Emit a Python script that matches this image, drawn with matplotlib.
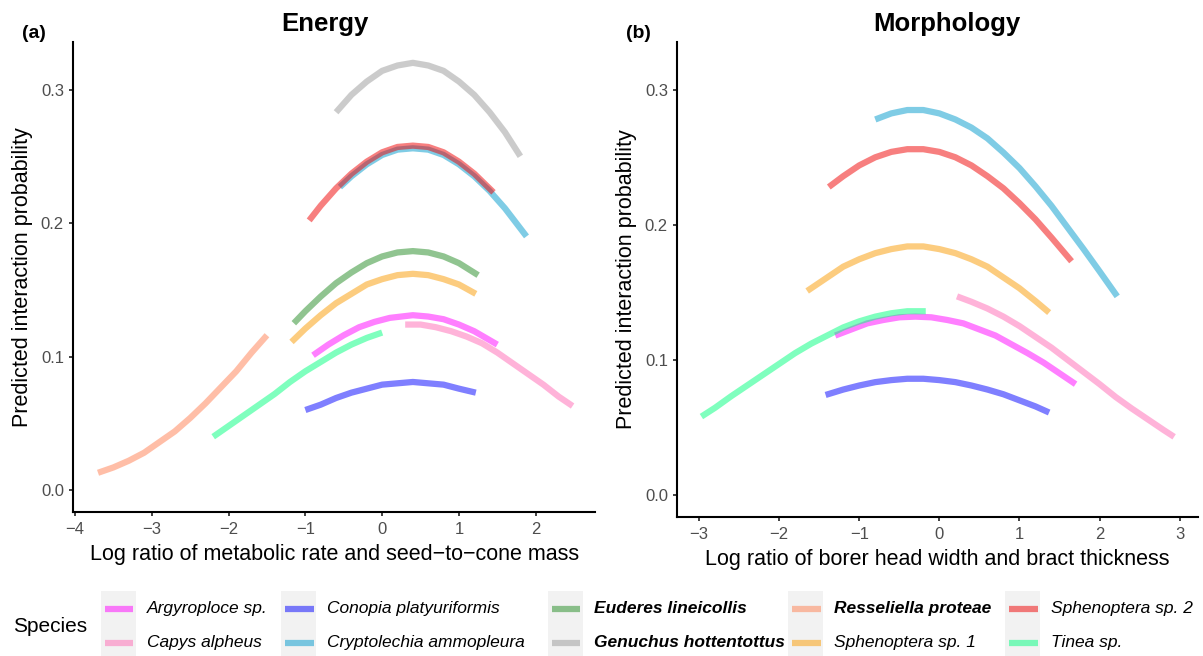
import matplotlib
matplotlib.use("Agg")
import matplotlib.pyplot as plt
from matplotlib.lines import Line2D
from matplotlib.patches import Rectangle

plt.rcParams['font.family'] = ['Liberation Sans', 'DejaVu Sans']

W, H = 1203, 656

# ---------------- data ----------------
species = ["Argyroploce sp.", "Capys alpheus", "Conopia platyuriformis",
           "Cryptolechia ammopleura", "Euderes lineicollis", "Genuchus hottentottus",
           "Resseliella proteae", "Sphenoptera sp. 1", "Sphenoptera sp. 2", "Tinea sp."]
bold_species = ["Euderes lineicollis", "Genuchus hottentottus", "Resseliella proteae"]
colors = ["#FF00FF", "#FF69B4", "#0000FF", "#009ACD", "#228B22",
          "#999999", "#FF7F50", "#FA9B00", "#F00000", "#00FF7F"]

# Panel (a) Energy
e_argy_x = [-0.9, -0.7, -0.5, -0.3, -0.1, 0.1, 0.4, 0.6, 0.8, 1.0, 1.2, 1.35, 1.5]
e_argy_y = [0.101, 0.109, 0.116, 0.122, 0.126, 0.129, 0.131, 0.130, 0.128, 0.124, 0.119, 0.114, 0.109]
e_capys_x = [0.3, 0.5, 0.7, 0.9, 1.1, 1.3, 1.5, 1.7, 1.9, 2.1, 2.3, 2.48]
e_capys_y = [0.124, 0.124, 0.122, 0.119, 0.115, 0.110, 0.103, 0.095, 0.087, 0.079, 0.070, 0.063]
e_conopia_x = [-1.0, -0.8, -0.6, -0.4, -0.2, 0.0, 0.2, 0.4, 0.6, 0.8, 1.0, 1.22]
e_conopia_y = [0.060, 0.064, 0.069, 0.073, 0.076, 0.079, 0.080, 0.081, 0.080, 0.079, 0.076, 0.073]
e_crypto_x = [-0.55, -0.4, -0.2, 0.0, 0.2, 0.4, 0.6, 0.8, 1.0, 1.2, 1.4, 1.6, 1.88]
e_crypto_y = [0.227, 0.235, 0.244, 0.251, 0.255, 0.256, 0.255, 0.251, 0.244, 0.235, 0.224, 0.211, 0.190]
e_euderes_x = [-1.15, -1.0, -0.8, -0.6, -0.4, -0.2, 0.0, 0.2, 0.4, 0.6, 0.8, 1.0, 1.25]
e_euderes_y = [0.125, 0.134, 0.145, 0.155, 0.163, 0.170, 0.175, 0.178, 0.179, 0.178, 0.175, 0.170, 0.161]
e_genuchus_x = [-0.6, -0.4, -0.2, 0.0, 0.2, 0.4, 0.6, 0.8, 1.0, 1.2, 1.4, 1.6, 1.8]
e_genuchus_y = [0.283, 0.296, 0.306, 0.314, 0.318, 0.320, 0.318, 0.314, 0.306, 0.296, 0.283, 0.268, 0.250]
e_ress_x = [-3.7, -3.5, -3.3, -3.1, -2.9, -2.7, -2.5, -2.3, -2.1, -1.9, -1.7, -1.5]
e_ress_y = [0.013, 0.017, 0.022, 0.028, 0.036, 0.044, 0.054, 0.065, 0.077, 0.089, 0.103, 0.116]
e_sph1_x = [-1.18, -1.0, -0.8, -0.6, -0.4, -0.2, 0.0, 0.2, 0.4, 0.6, 0.8, 1.0, 1.22]
e_sph1_y = [0.111, 0.121, 0.131, 0.140, 0.147, 0.154, 0.158, 0.161, 0.162, 0.161, 0.158, 0.154, 0.147]
e_sph2_x = [-0.95, -0.8, -0.6, -0.4, -0.2, 0.0, 0.2, 0.4, 0.6, 0.8, 1.0, 1.2, 1.45]
e_sph2_y = [0.202, 0.213, 0.226, 0.237, 0.246, 0.253, 0.257, 0.258, 0.257, 0.253, 0.246, 0.237, 0.223]
e_tinea_x = [-2.2, -2.0, -1.8, -1.6, -1.4, -1.2, -1.0, -0.8, -0.6, -0.4, -0.2, 0.0]
e_tinea_y = [0.040, 0.048, 0.056, 0.064, 0.072, 0.081, 0.089, 0.096, 0.103, 0.109, 0.114, 0.118]

# Panel (b) Morphology
m_argy_x = [-1.3, -1.1, -0.9, -0.7, -0.5, -0.3, -0.1, 0.1, 0.3, 0.5, 0.7, 0.9, 1.1, 1.3, 1.5, 1.7]
m_argy_y = [0.118, 0.1225, 0.127, 0.1295, 0.1315, 0.132, 0.1315, 0.1295, 0.127, 0.1225, 0.118,
            0.1115, 0.105, 0.098, 0.090, 0.082]
m_capys_x = [0.22, 0.4, 0.6, 0.8, 1.0, 1.2, 1.4, 1.6, 1.8, 2.0, 2.2, 2.4, 2.6, 2.8, 2.93]
m_capys_y = [0.147, 0.143, 0.138, 0.132, 0.125, 0.117, 0.109, 0.100, 0.091, 0.082, 0.0725,
             0.064, 0.056, 0.048, 0.043]
m_conopia_x = [-1.42, -1.2, -1.0, -0.8, -0.6, -0.4, -0.2, 0.0, 0.2, 0.4, 0.6, 0.8, 1.0, 1.2, 1.37]
m_conopia_y = [0.074, 0.078, 0.081, 0.0835, 0.085, 0.086, 0.086, 0.085, 0.0835, 0.081, 0.078,
               0.0745, 0.070, 0.0655, 0.061]
m_crypto_x = [-0.8, -0.6, -0.4, -0.2, 0.0, 0.2, 0.4, 0.6, 0.8, 1.0, 1.2, 1.4, 1.6, 1.8, 2.0, 2.22]
m_crypto_y = [0.278, 0.2825, 0.285, 0.285, 0.2825, 0.278, 0.272, 0.264, 0.2535, 0.242, 0.2285,
              0.214, 0.198, 0.182, 0.1655, 0.147]
m_sph1_x = [-1.65, -1.4, -1.2, -1.0, -0.8, -0.6, -0.4, -0.2, 0.0, 0.2, 0.4, 0.6, 0.8, 1.0, 1.2, 1.37]
m_sph1_y = [0.151, 0.161, 0.169, 0.1745, 0.179, 0.182, 0.184, 0.184, 0.182, 0.179, 0.1745,
            0.169, 0.161, 0.153, 0.1435, 0.135]
m_sph2_x = [-1.38, -1.2, -1.0, -0.8, -0.6, -0.4, -0.2, 0.0, 0.2, 0.4, 0.6, 0.8, 1.0, 1.2, 1.4, 1.65]
m_sph2_y = [0.228, 0.236, 0.244, 0.250, 0.254, 0.256, 0.256, 0.254, 0.250, 0.244, 0.236,
            0.227, 0.216, 0.204, 0.1905, 0.173]
m_tinea_x = [-2.97, -2.8, -2.6, -2.4, -2.2, -2.0, -1.8, -1.6, -1.4, -1.2, -1.0, -0.8, -0.6, -0.4, -0.17]
m_tinea_y = [0.058, 0.0645, 0.073, 0.081, 0.089, 0.097, 0.105, 0.112, 0.118, 0.124, 0.1285,
             0.132, 0.1345, 0.136, 0.136]

x_ticks_a = [-4, -3, -2, -1, 0, 1, 2]
x_ticks_b = [-3, -2, -1, 0, 1, 2, 3]
y_ticks = [0.0, 0.1, 0.2, 0.3]

energy = {
    "Argyroploce sp.": (e_argy_x, e_argy_y),
    "Capys alpheus": (e_capys_x, e_capys_y),
    "Conopia platyuriformis": (e_conopia_x, e_conopia_y),
    "Cryptolechia ammopleura": (e_crypto_x, e_crypto_y),
    "Euderes lineicollis": (e_euderes_x, e_euderes_y),
    "Genuchus hottentottus": (e_genuchus_x, e_genuchus_y),
    "Resseliella proteae": (e_ress_x, e_ress_y),
    "Sphenoptera sp. 1": (e_sph1_x, e_sph1_y),
    "Sphenoptera sp. 2": (e_sph2_x, e_sph2_y),
    "Tinea sp.": (e_tinea_x, e_tinea_y),
}
morph = {
    "Argyroploce sp.": (m_argy_x, m_argy_y),
    "Capys alpheus": (m_capys_x, m_capys_y),
    "Conopia platyuriformis": (m_conopia_x, m_conopia_y),
    "Cryptolechia ammopleura": (m_crypto_x, m_crypto_y),
    "Sphenoptera sp. 1": (m_sph1_x, m_sph1_y),
    "Sphenoptera sp. 2": (m_sph2_x, m_sph2_y),
    "Tinea sp.": (m_tinea_x, m_tinea_y),
}
color_of = dict(zip(species, colors))

# ---------------- figure ----------------
fig = plt.figure(figsize=(W / 100, H / 100), dpi=100)


def fx(px):
    return px / W


def fy(py):
    return 1 - py / H


ax_a = fig.add_axes([fx(73.3), fy(512.3), fx(595) - fx(73.3), fy(42) - fy(512.3)])
ax_b = fig.add_axes([fx(677.3), fy(517.3), fx(1198) - fx(677.3), fy(41.7) - fy(517.3)])

LW = 4.5
for ax, data, xt, xlim, xlabel in [
        (ax_a, energy, x_ticks_a, (-4.022, 2.772), "Log ratio of metabolic rate and seed\u2212to\u2212cone mass"),
        (ax_b, morph, x_ticks_b, (-3.271, 3.228), "Log ratio of borer head width and bract thickness")]:
    for sp in species:
        if sp in data:
            xs, ys = data[sp]
            ax.plot(xs, ys, color=color_of[sp], alpha=0.5, lw=LW,
                    solid_capstyle='butt', solid_joinstyle='round')
    ax.set_xlim(*xlim)
    ax.set_ylim(-0.0166, 0.3356)
    ax.set_xticks(xt)
    ax.set_xticklabels([("\u2212" + str(abs(v))) if v < 0 else str(v) for v in xt])
    ax.set_yticks(y_ticks)
    ax.set_yticklabels([f"{v:.1f}" for v in y_ticks])
    for s in ["top", "right"]:
        ax.spines[s].set_visible(False)
    for s in ["left", "bottom"]:
        ax.spines[s].set_linewidth(1.5)
        ax.spines[s].set_color("black")
    ax.tick_params(axis='both', length=3.2, width=1.3, color="#333333",
                   labelcolor="#4D4D4D", labelsize=12, pad=3.5)
    ax.set_xlabel(xlabel, fontsize=15.5, color="black", labelpad=5)
    ax.set_ylabel("Predicted interaction probability", fontsize=15.5, color="black", labelpad=6)

# titles and panel tags
fig.text(fx(325), fy(24), "Energy", fontsize=18.5, fontweight='bold', ha='center', va='center')
fig.text(fx(947), fy(24), "Morphology", fontsize=18.5, fontweight='bold', ha='center', va='center')
fig.text(fx(34), fy(34), "(a)", fontsize=14, fontweight='bold', ha='center', va='center')
fig.text(fx(638), fy(34), "(b)", fontsize=14, fontweight='bold', ha='center', va='center')

# ---------------- legend (drawn manually, ggplot style) ----------------
fig.text(fx(12.7), fy(626), "Species", fontsize=15, ha='left', va='center')
col_left = [100.7, 281, 547.7, 788, 1005]
row_y = [608.5, 642.7]
for i, sp in enumerate(species):
    c, r = divmod(i, 2)
    left = col_left[c]
    if r == 0:
        fig.patches.append(Rectangle((fx(left), fy(656)), fx(35.3), fy(591) - fy(656),
                                     transform=fig.transFigure, facecolor="#F2F2F2",
                                     edgecolor="none", zorder=0))
    yy = fy(row_y[r])
    fig.lines.append(Line2D([fx(left + 4.3), fx(left + 32.6)], [yy, yy],
                            transform=fig.transFigure, color=color_of[sp], alpha=0.5,
                            lw=LW, solid_capstyle='butt', zorder=1))
    fig.text(fx(left + 46), yy, sp, fontsize=12.5, style='italic',
             fontweight='bold' if sp in bold_species else 'normal',
             ha='left', va='center')

fig.savefig("out.png", dpi=100)
